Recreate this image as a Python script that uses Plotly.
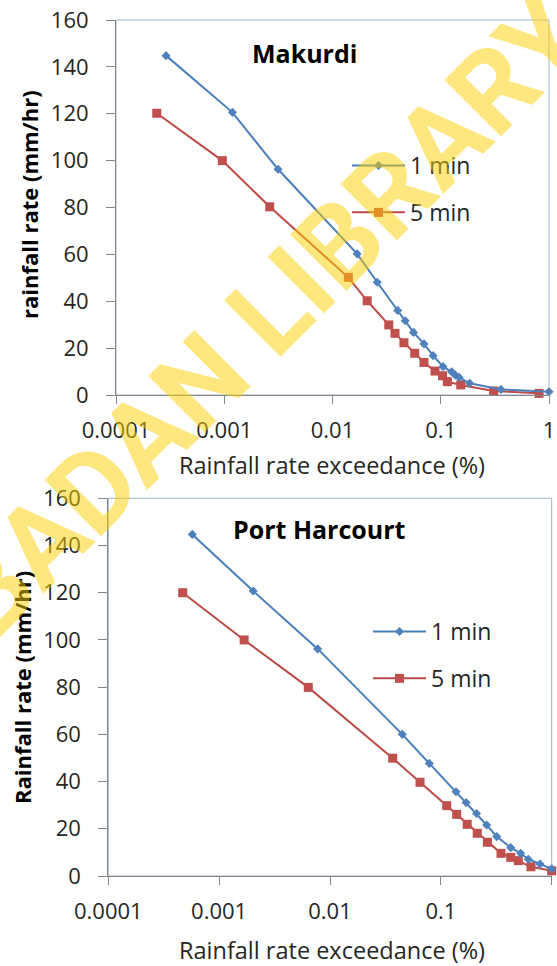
import plotly.graph_objects as go

# ---------------- data ----------------
tick_vals = [0.0001, 0.001, 0.01, 0.1, 1]
tick_text = ["0.0001", "0.001", "0.01", "0.1", "1"]

mak_1min_x = [0.00029, 0.00119, 0.00314, 0.0169, 0.0259, 0.040, 0.047, 0.056, 0.070,
              0.085, 0.105, 0.126, 0.136, 0.148, 0.185, 0.36, 1.0]
mak_1min_y = [144.8, 120.6, 96.3, 60.2, 48.1, 36.1, 31.7, 26.7, 21.8,
              16.8, 12.1, 9.9, 8.5, 7.5, 5.0, 2.4, 1.4]

mak_5min_x = [0.000238, 0.00096, 0.00263, 0.0140, 0.0209, 0.0331, 0.0378, 0.0457,
              0.0575, 0.070, 0.0885, 0.104, 0.115, 0.153, 0.308, 0.81]
mak_5min_y = [120.2, 100.0, 80.3, 50.2, 40.2, 29.9, 26.3, 22.3,
              17.8, 13.9, 10.2, 8.2, 5.7, 4.3, 1.7, 0.7]

ph_1min_x = [0.000573, 0.00203, 0.00774, 0.0449, 0.0787, 0.137, 0.169, 0.210,
             0.259, 0.319, 0.427, 0.525, 0.615, 0.784, 1.0]
ph_1min_y = [144.7, 120.7, 96.2, 60.0, 47.7, 35.7, 31.1, 26.5,
             21.6, 16.7, 12.0, 9.6, 7.1, 5.1, 3.0]

ph_5min_x = [0.000469, 0.00168, 0.00637, 0.0368, 0.0649, 0.113, 0.139, 0.173,
             0.213, 0.263, 0.349, 0.427, 0.50, 0.65, 1.0]
ph_5min_y = [120.0, 100.0, 79.9, 49.9, 39.7, 29.8, 26.1, 21.9,
             18.1, 14.3, 9.6, 7.9, 6.5, 3.9, 2.2]

series_names = ["1 min", "5 min"]
titles = ["Makurdi", "Port Harcourt"]
x_title = "Rainfall rate exceedance (%)"
y_titles = ["rainfall rate (mm/hr)", "Rainfall rate (mm/hr)"]
watermark = "IBADAN LIBRARY"

# ---------------- style ----------------
W, H = 557, 966
FONT = "Open Sans"
BLUE_L, BLUE_M = "#4A7EBB", "#4F81BD"
RED_L, RED_M = "#BE4B48", "#C0504D"
AXIS = "#868686"
TXT = "#262626"

fig = go.Figure()

def add_pair(x1, y1, x5, y5, xa, ya, leg):
    fig.add_trace(go.Scatter(
        x=x5, y=y5, name=series_names[1], mode="lines+markers",
        xaxis=xa, yaxis=ya, legend=leg, legendrank=2, legendgroup=leg + "b",
        line=dict(color=RED_L, width=2),
        marker=dict(symbol="square", size=9, color=RED_M, line=dict(width=0)),
        cliponaxis=False))
    fig.add_trace(go.Scatter(
        x=x1, y=y1, name=series_names[0], mode="lines+markers",
        xaxis=xa, yaxis=ya, legend=leg, legendrank=1, legendgroup=leg + "a",
        line=dict(color=BLUE_L, width=2),
        marker=dict(symbol="diamond", size=7, color=BLUE_M, line=dict(width=0)),
        cliponaxis=False))

add_pair(mak_1min_x, mak_1min_y, mak_5min_x, mak_5min_y, "x", "y", "legend")
add_pair(ph_1min_x, ph_1min_y, ph_5min_x, ph_5min_y, "x2", "y2", "legend2")

def px_x(p):
    return p / W

def px_y(p):
    return 1 - p / H

# plot areas in pixels
top = dict(l=116, r=549, t=20, b=395)
bot = dict(l=108.3, r=551.7, t=498.3, b=876)

def xaxis(area, anchor):
    return dict(
        type="log", range=[-4, 0], domain=[px_x(area["l"]), px_x(area["r"])],
        anchor=anchor, tickvals=tick_vals, ticktext=tick_text, automargin=False,
        showgrid=False, zeroline=False, showline=True, linecolor=AXIS, linewidth=1,
        ticks="outside", ticklen=8, tickcolor=AXIS, tickwidth=1,
        ticklabelstandoff=8,
        tickfont=dict(family=FONT, size=22, color=TXT))

def yaxis(area, anchor):
    return dict(
        range=[0, 160], dtick=20, domain=[px_y(area["b"]), px_y(area["t"])],
        anchor=anchor, showgrid=False, zeroline=False, showline=True, automargin=False,
        linecolor=AXIS, linewidth=1, ticks="outside", ticklen=9, tickcolor=AXIS,
        tickwidth=1, ticklabelstandoff=13,
        tickfont=dict(family=FONT, size=22, color=TXT))

annotations = [
    # chart titles
    dict(text="<b>%s</b>" % titles[0], x=px_x(304.5), y=px_y(53), xref="paper", yref="paper",
         showarrow=False, font=dict(family=FONT, size=25, color="#000000"),
         xanchor="center", yanchor="middle"),
    dict(text="<b>%s</b>" % titles[1], x=px_x(319), y=px_y(529), xref="paper", yref="paper",
         showarrow=False, font=dict(family=FONT, size=25, color="#000000"),
         xanchor="center", yanchor="middle"),
    # x titles
    dict(text=x_title, x=px_x(331.5), y=px_y(465), xref="paper", yref="paper",
         showarrow=False, font=dict(family=FONT, size=23.5, color=TXT),
         xanchor="center", yanchor="middle"),
    dict(text=x_title, x=px_x(331.5), y=px_y(950), xref="paper", yref="paper",
         showarrow=False, font=dict(family=FONT, size=23.5, color=TXT),
         xanchor="center", yanchor="middle"),
    # y titles
    dict(text="<b>%s</b>" % y_titles[0], x=px_x(29), y=px_y(205), xref="paper", yref="paper",
         showarrow=False, textangle=-90, font=dict(family=FONT, size=22, color="#000000"),
         xanchor="center", yanchor="middle"),
    dict(text="<b>%s</b>" % y_titles[1], x=px_x(22), y=px_y(688), xref="paper", yref="paper",
         showarrow=False, textangle=-90, font=dict(family=FONT, size=22, color="#000000"),
         xanchor="center", yanchor="middle"),
    # watermark
    dict(text="<b>%s</b>" % watermark, x=px_x(254), y=px_y(328), xref="paper", yref="paper",
         showarrow=False, textangle=-45,
         font=dict(family="Roboto", size=112, color="rgba(255,208,0,0.5)"),
         xanchor="center", yanchor="middle"),
]

border = "#9DB3CF"
shapes = [
    dict(type="rect", xref="x domain", yref="y domain", x0=0, x1=1, y0=0, y1=1,
         line=dict(color=border, width=1), layer="below"),
    dict(type="rect", xref="x2 domain", yref="y2 domain", x0=0, x1=1, y0=0, y1=1,
         line=dict(color=border, width=1), layer="below"),
]

leg_common = dict(font=dict(family=FONT, size=23, color=TXT), bgcolor="rgba(0,0,0,0)",
                  borderwidth=0, itemwidth=53, tracegroupgap=14,
                  traceorder="grouped", xanchor="left", yanchor="top")

fig.update_layout(
    width=W, height=H, margin=dict(l=0, r=0, t=0, b=0, autoexpand=False),
    paper_bgcolor="white", plot_bgcolor="white",
    xaxis=xaxis(top, "y"), yaxis=yaxis(top, "x"),
    xaxis2=xaxis(bot, "y2"), yaxis2=yaxis(bot, "x2"),
    legend=dict(x=px_x(347), y=px_y(144), **leg_common),
    legend2=dict(x=px_x(368), y=px_y(610), **leg_common),
    annotations=annotations, shapes=shapes, showlegend=True,
)

fig.write_html("out.html")
